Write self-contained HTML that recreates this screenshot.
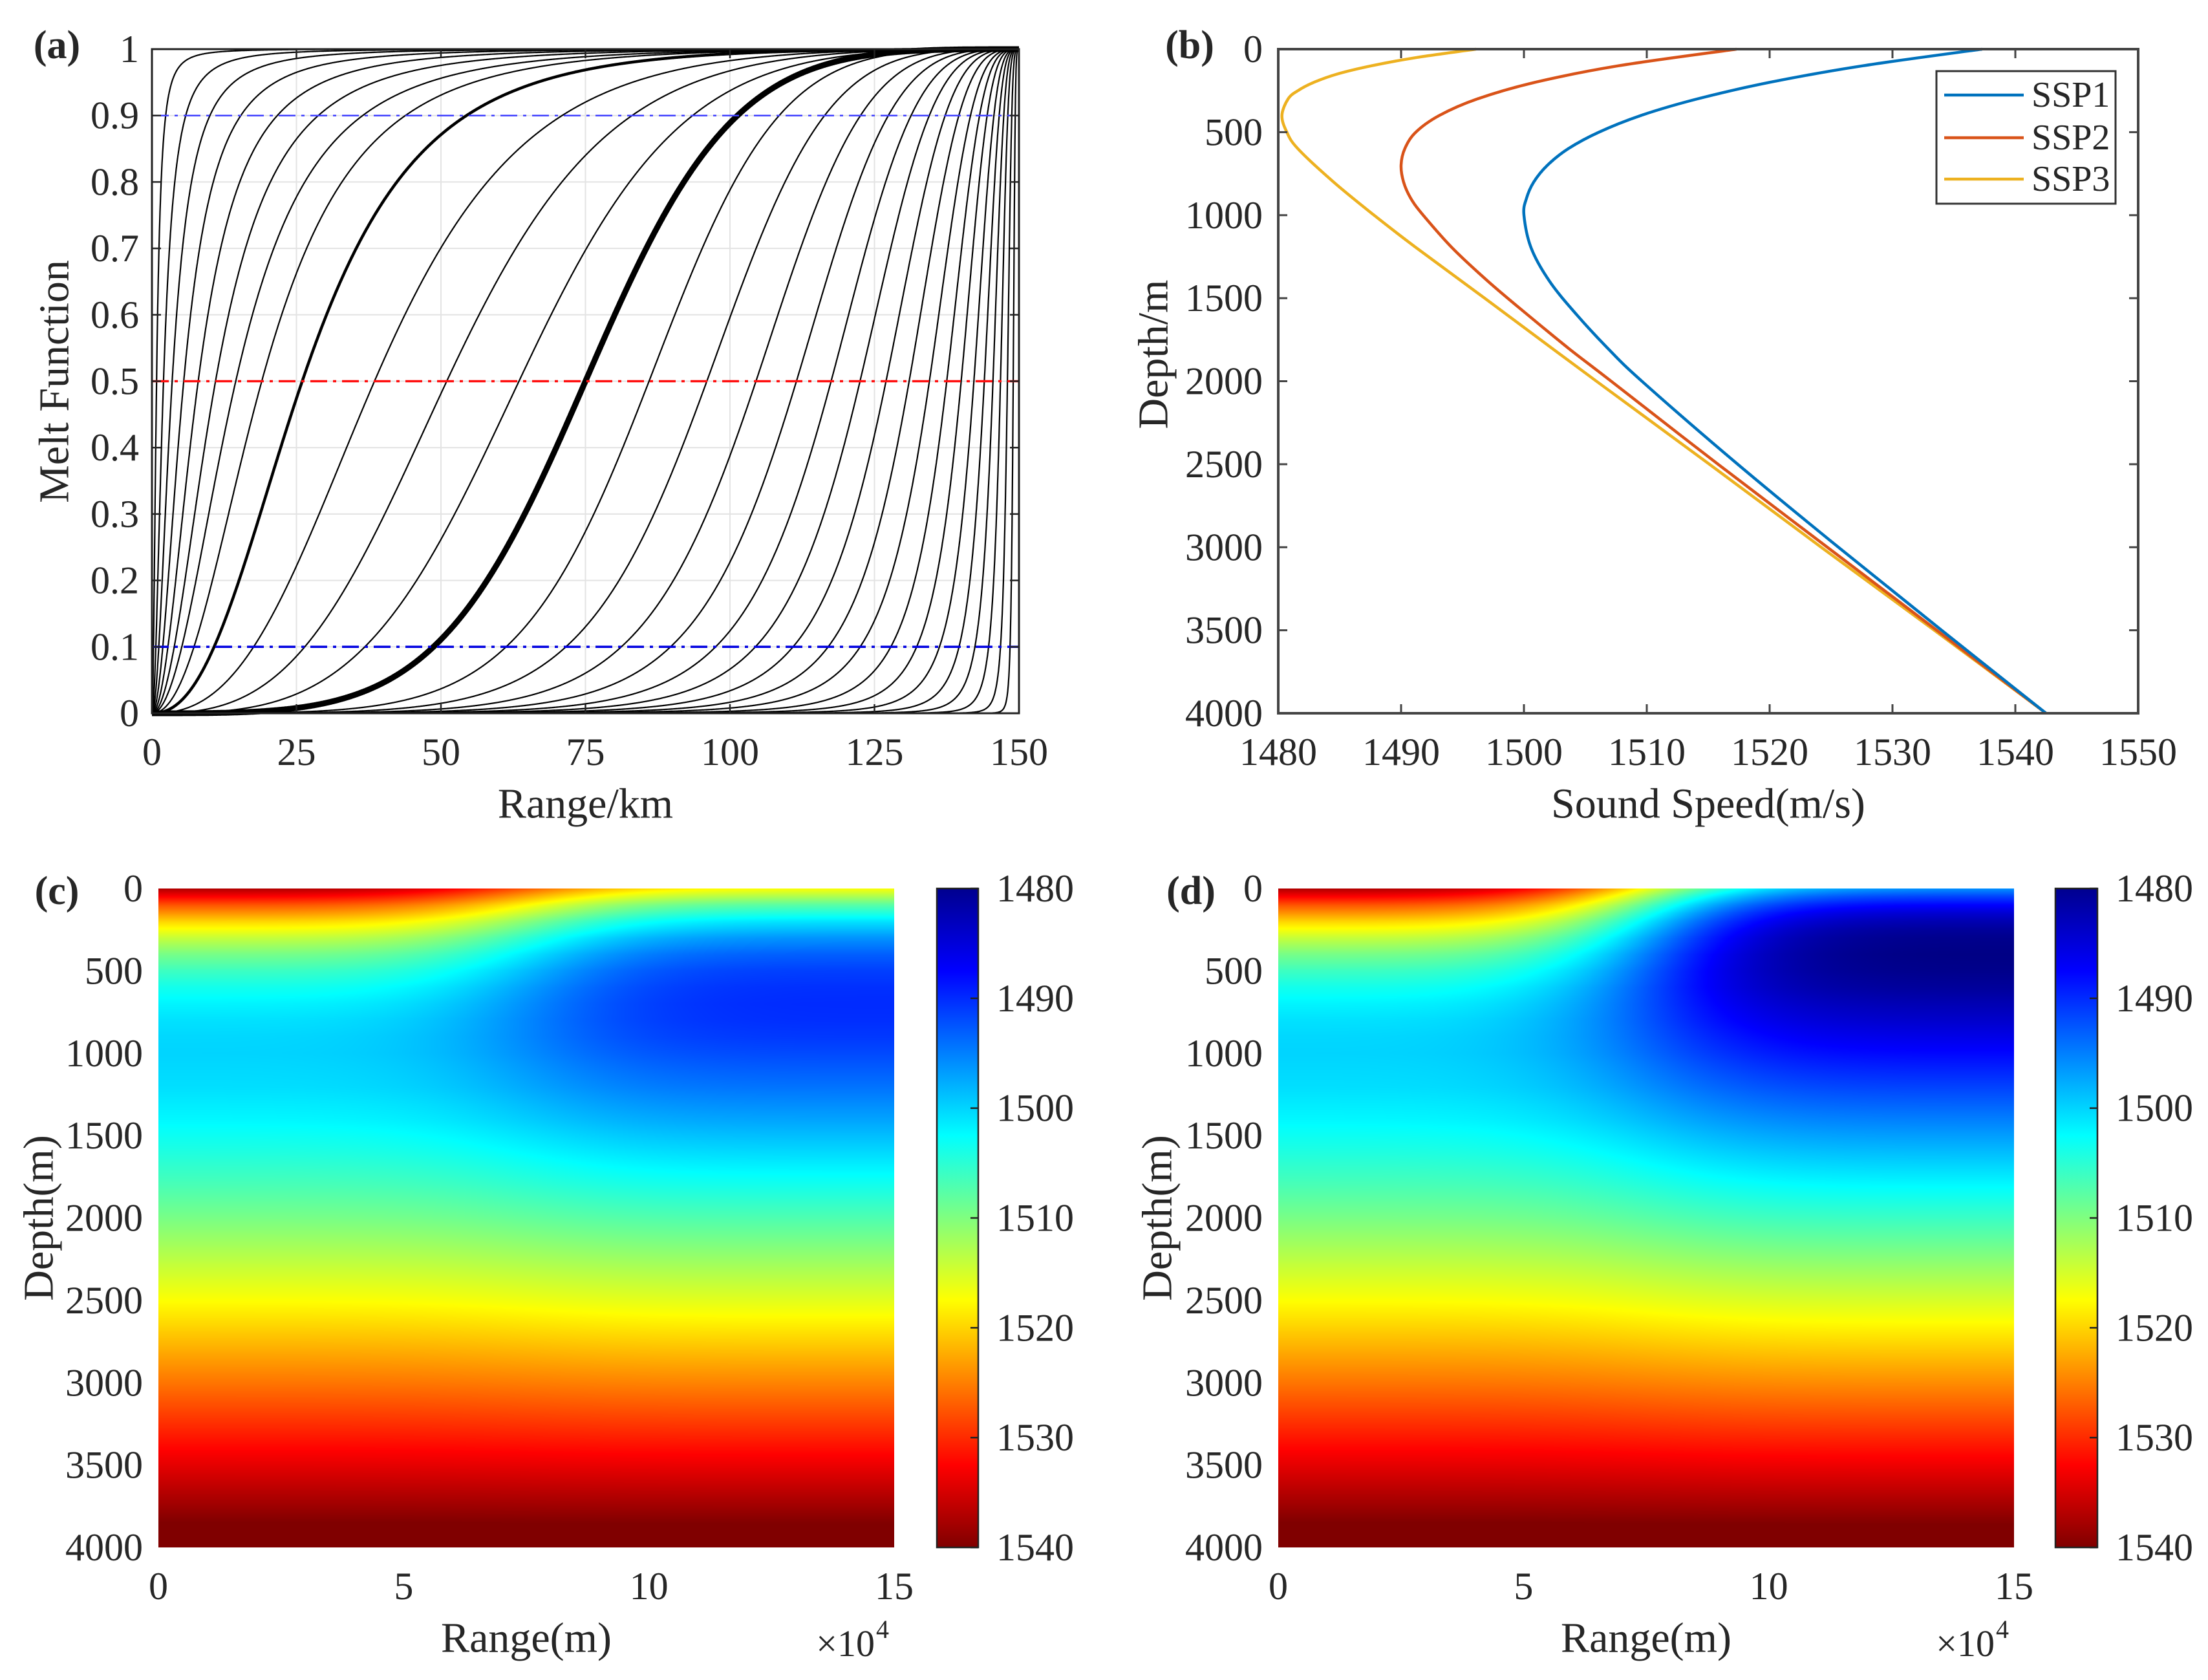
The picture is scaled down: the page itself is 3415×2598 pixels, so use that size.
<!DOCTYPE html>
<html><head><meta charset="utf-8"><title>Melt function and sound speed fields</title>
<style>
html,body{margin:0;padding:0;background:#fff;}
#wrap{position:relative;width:3415px;height:2598px;overflow:hidden;background:#fff;}
canvas{position:absolute;}
svg{position:absolute;left:0;top:0;}
text{font-family:"Liberation Serif",serif;fill:#262626;}
</style></head>
<body>
<div id="wrap">
<canvas id="hmC" width="1138" height="1019" style="left:245px;top:1374px"></canvas>
<canvas id="hmD" width="1138" height="1019" style="left:1977px;top:1374px"></canvas>
<svg id="fig" width="3415" height="2598" viewBox="0 0 3415 2598">
<defs>
<linearGradient id="jetGrad" x1="0" y1="0" x2="0" y2="1">
<stop offset="0" stop-color="#00008f"/><stop offset="0.125" stop-color="#0000ff"/>
<stop offset="0.375" stop-color="#00ffff"/><stop offset="0.625" stop-color="#ffff00"/>
<stop offset="0.875" stop-color="#ff0000"/><stop offset="1" stop-color="#800000"/>
</linearGradient>
</defs>
</svg>
</div>
<script>
// ---------- data: panel (a) melt-function family ----------
const meltCenters = [0.8, 2, 3.5, 5.5, 8, 11, 14.5, 19, 26, 38.5, 51, 63.5, 75, 86, 96, 104.5, 111.5, 117.5, 122.5, 127, 131, 134.5, 137.5, 140, 142.2, 144, 145.5, 146.8, 148, 149];
const meltSteepness = [2, 2, 2, 2, 2, 2, 2, 2.1, 2.2, 2.3, 2.5, 2.7, 3, 3.3, 3.3, 3.3, 3.3, 3.3, 3.3, 3.3, 3.3, 3.3, 3.4, 3.5, 3.6, 3.8, 4, 4.3, 4.6, 5];
const meltRefLevels = [0.9, 0.5, 0.1];
const meltXTicks = [0, 25, 50, 75, 100, 125, 150];
const meltYTicks = [0, 0.1, 0.2, 0.3, 0.4, 0.5, 0.6, 0.7, 0.8, 0.9, 1];
const meltYTickLabels = ['0','0.1','0.2','0.3','0.4','0.5','0.6','0.7','0.8','0.9','1'];
// ---------- data: panel (b) sound speed profiles ----------
const ssp1Depth = [0,100,200,300,400,500,600,700,800,900,1000,1200,1400,1600,1800,2000,2500,3000,3500,4000];
const ssp1Speed = [1537.3,1527.6,1520.0,1514.1,1509.5,1506.1,1503.6,1501.9,1500.8,1500.2,1500.0,1500.6,1502.1,1504.3,1506.8,1509.6,1517.4,1525.6,1534.0,1542.5];
const ssp2Depth = [0,100,200,300,400,500,600,700,800,900,1000,1200,1400,1600,1800,2000,2500,3000,3500,4000];
const ssp2Speed = [1517.3,1507.7,1500.9,1496.2,1493.1,1491.2,1490.3,1490.0,1490.2,1490.8,1491.8,1494.2,1497.1,1500.3,1503.6,1507.1,1515.8,1524.7,1533.6,1542.5];
const ssp3Depth = [0,50,100,150,200,250,300,400,500,600,800,1000,1200,1500,2000,2500,3000,3500,4000];
const ssp3Speed = [1496.1,1491.3,1487.6,1484.8,1482.9,1481.6,1480.8,1480.3,1480.7,1481.6,1484.5,1487.8,1491.3,1496.8,1505.9,1515.1,1524.2,1533.4,1542.5];
const sspNames = ['SSP1','SSP2','SSP3'];
const speedTicks = [1480,1490,1500,1510,1520,1530,1540,1550];
const depthTicks = [0,500,1000,1500,2000,2500,3000,3500,4000];
// ---------- data: heatmaps ----------
const heatRangeTicks = [0,5,10,15];          // x10^4 m
const colorbarTicks = [1480,1490,1500,1510,1520,1530,1540];
const fieldMeltCenter = 75;                   // km
const fieldMeltSteepness = 3;

const NS = 'http://www.w3.org/2000/svg';
const svg = document.getElementById('fig');
function mk(tag, attrs, parent){
  const e = document.createElementNS(NS, tag);
  for (const k in attrs) e.setAttribute(k, attrs[k]);
  (parent || svg).appendChild(e);
  return e;
}
function txt(str, x, y, size, anchor, parent, extra){
  const t = mk('text', Object.assign({x:x, y:y, 'font-size':size, 'text-anchor':anchor||'middle', 'dominant-baseline':'central'}, extra||{}), parent);
  t.textContent = str;
  return t;
}
function melt(x, c, k){
  if (x <= 0) return 0;
  if (x >= 150) return 1;
  const s = c / (150 - c);
  return 1 / (1 + Math.pow(s * (150 - x) / x, k));
}
function interp(ds, vs, d){
  if (d <= ds[0]) return vs[0];
  for (let i = 1; i < ds.length; i++){
    if (d <= ds[i]){ const t = (d - ds[i-1]) / (ds[i] - ds[i-1]); return vs[i-1] + t * (vs[i] - vs[i-1]); }
  }
  return vs[vs.length-1];
}
function catmull(pts){
  let d = 'M' + pts[0][0].toFixed(1) + ',' + pts[0][1].toFixed(1);
  for (let i = 0; i < pts.length - 1; i++){
    const p0 = pts[Math.max(0,i-1)], p1 = pts[i], p2 = pts[i+1], p3 = pts[Math.min(pts.length-1,i+2)];
    const c1x = p1[0] + (p2[0]-p0[0])/6, c1y = p1[1] + (p2[1]-p0[1])/6;
    const c2x = p2[0] - (p3[0]-p1[0])/6, c2y = p2[1] - (p3[1]-p1[1])/6;
    d += ' C' + c1x.toFixed(1)+','+c1y.toFixed(1)+' '+c2x.toFixed(1)+','+c2y.toFixed(1)+' '+p2[0].toFixed(1)+','+p2[1].toFixed(1);
  }
  return d;
}

// ================= PANEL A =================
const A = {L:235, R:1576, T:76, B:1103};
const xA = v => A.L + v / 150 * (A.R - A.L);
const yA = v => A.B - v * (A.B - A.T);
const gA = mk('g', {});


const gridA = mk('g', {stroke:'#e3e3e3', 'stroke-width':2}, gA);


meltXTicks.forEach(v => { mk('line', {x1:xA(v), x2:xA(v), y1:A.T, y2:A.B}, gridA); });
meltYTicks.forEach(v => { mk('line', {x1:A.L, x2:A.R, y1:yA(v), y2:yA(v)}, gridA); });
const curvesA = mk('g', {fill:'none', stroke:'#000', 'stroke-linejoin':'round'}, gA);


const order = meltCenters.map((c,i)=>i).sort((a,b)=>{
  const w = c => c===75 ? 2 : (c===26 ? 1 : 0);
  return w(meltCenters[a]) - w(meltCenters[b]);
});
order.forEach(i => {
  const c = meltCenters[i], k = meltSteepness[i];
  let d = '';
  for (let s = 0; s <= 3000; s++){
    const x = s * 0.05;
    d += (s ? 'L' : 'M') + xA(x).toFixed(1) + ',' + yA(melt(x, c, k)).toFixed(1);
  }
  const p = mk('path', {d:d, 'stroke-width': c===75 ? 9 : (c===26 ? 4.5 : 2.2)}, curvesA);
  
  
});
const refStyles = {0.9:{c:'#4040ff', w:2.5}, 0.5:{c:'#ff1010', w:3.5}, 0.1:{c:'#0000e0', w:3.5}};
meltRefLevels.forEach(v => {
  const l = mk('line', {x1:A.L, x2:A.R, y1:yA(v), y2:yA(v), stroke:refStyles[v].c, 'stroke-width':refStyles[v].w, 'stroke-dasharray':'26 9 5 9'}, gA);
  
  
});
const boxA = mk('rect', {x:A.L, y:A.T, width:A.R-A.L, height:A.B-A.T, fill:'none', stroke:'#222', 'stroke-width':3}, gA);


const tA = mk('g', {stroke:'#222', 'stroke-width':2.5}, gA);
meltXTicks.forEach(v => { mk('line',{x1:xA(v),x2:xA(v),y1:A.B,y2:A.B-14},tA); mk('line',{x1:xA(v),x2:xA(v),y1:A.T,y2:A.T+14},tA); });
meltYTicks.forEach(v => { mk('line',{x1:A.L,x2:A.L+14,y1:yA(v),y2:yA(v)},tA); mk('line',{x1:A.R,x2:A.R-14,y1:yA(v),y2:yA(v)},tA); });
meltXTicks.forEach(v => {
  const t = txt(String(v), xA(v), A.B + 60, 60, 'middle', gA);
  
  
});
meltYTicks.forEach((v,i) => {
  const t = txt(meltYTickLabels[i], A.L - 20, yA(v), 60, 'end', gA);
  
  
});
const xtA = txt('Range/km', (A.L+A.R)/2, 1243, 66, 'middle', gA);


const ytA = txt('Melt Function', 0, 0, 66, 'middle', gA, {transform:'translate(84,590) rotate(-90)'});


const labA = txt('(a)', 88, 70, 62, 'middle', gA, {'font-weight':'bold', fill:'#000'});



// ================= PANEL B =================
const Bp = {L:1977, R:3307, T:76, B:1103};
const xB = v => Bp.L + (v - 1480) / 70 * (Bp.R - Bp.L);
const yB = d => Bp.T + d / 4000 * (Bp.B - Bp.T);
const gB = mk('g', {});


const sspColors = ['#0072BD', '#D95319', '#EDB120'];
const sspData = [[ssp1Depth, ssp1Speed], [ssp2Depth, ssp2Speed], [ssp3Depth, ssp3Speed]];
[2,1,0].forEach(i => {
  const pts = sspData[i][0].map((d,j) => [xB(sspData[i][1][j]), yB(d)]);
  const p = mk('path', {d:catmull(pts), fill:'none', stroke:sspColors[i], 'stroke-width':4.5}, gB);
  
  
});
const boxB = mk('rect', {x:Bp.L, y:Bp.T, width:Bp.R-Bp.L, height:Bp.B-Bp.T, fill:'none', stroke:'#444', 'stroke-width':4}, gB);


const tB = mk('g', {stroke:'#444', 'stroke-width':3}, gB);
speedTicks.forEach(v => { mk('line',{x1:xB(v),x2:xB(v),y1:Bp.B,y2:Bp.B-14},tB); mk('line',{x1:xB(v),x2:xB(v),y1:Bp.T,y2:Bp.T+14},tB); });
depthTicks.forEach(v => { mk('line',{x1:Bp.L,x2:Bp.L+14,y1:yB(v),y2:yB(v)},tB); mk('line',{x1:Bp.R,x2:Bp.R-14,y1:yB(v),y2:yB(v)},tB); });
speedTicks.forEach(v => {
  const t = txt(String(v), xB(v), Bp.B + 60, 60, 'middle', gB);
  
  
});
depthTicks.forEach(v => {
  const t = txt(String(v), Bp.L - 24, yB(v), 60, 'end', gB);
  
  
});
const xtB = txt('Sound Speed(m/s)', (Bp.L+Bp.R)/2, 1243, 66, 'middle', gB);


const ytB = txt('Depth/m', 0, 0, 66, 'middle', gB, {transform:'translate(1784,548) rotate(-90)'});


const labB = txt('(b)', 1840, 70, 62, 'middle', gB, {'font-weight':'bold', fill:'#000'});


const leg = mk('g', {}, gB);


mk('rect', {x:2995, y:110, width:277, height:205, fill:'#fff', stroke:'#333', 'stroke-width':3}, leg);
[147, 213, 277].forEach((y, i) => {
  const ln = mk('line', {x1:3007, x2:3130, y1:y, y2:y, stroke:sspColors[i], 'stroke-width':4.5}, leg);
  
  
  const t = txt(sspNames[i], 3142, y, 56, 'start', leg, {fill:'#000'});
  
  
});

// ================= HEATMAPS =================
function jet(t){
  t = Math.max(0, Math.min(1, t));
  const cl = v => Math.max(0, Math.min(1, v));
  return [cl(1.5 - Math.abs(4*t - 3)), cl(1.5 - Math.abs(4*t - 2)), cl(1.5 - Math.abs(4*t - 1))];
}
function drawHeat(id, depthB, speedB){
  const cv = document.getElementById(id);
  const ctx = cv.getContext('2d');
  const W = cv.width, H = cv.height;
  const img = ctx.createImageData(W, H);
  const colA = [], colB = [];
  for (let y = 0; y < H; y++){
    const d = (y + 0.5) / H * 4000;
    colA.push(interp(ssp1Depth, ssp1Speed, d));
    colB.push(interp(depthB, speedB, d));
  }
  for (let x = 0; x < W; x++){
    const r = (x + 0.5) / W * 150;
    const m = melt(r, fieldMeltCenter, fieldMeltSteepness);
    for (let y = 0; y < H; y++){
      const c = colA[y] * (1 - m) + colB[y] * m;
      const rgb = jet((c - 1480) / 60);
      const o = (y * W + x) * 4;
      img.data[o] = rgb[0]*255; img.data[o+1] = rgb[1]*255; img.data[o+2] = rgb[2]*255; img.data[o+3] = 255;
    }
  }
  ctx.putImageData(img, 0, 0);
}
drawHeat('hmC', ssp2Depth, ssp2Speed);
drawHeat('hmD', ssp3Depth, ssp3Speed);

function heatAxes(P, cbL, cbR, letter, labX, ytX){
  const g = mk('g', {});
  
  
  const xH = v => P.L + v / 15 * (P.R - P.L);
  const yH = d => P.T + d / 4000 * (P.B - P.T);
  depthTicks.forEach(v => {
    const t = txt(String(v), P.L - 24, yH(v), 60, 'end', g);
    
    
  });
  heatRangeTicks.forEach(v => {
    const t = txt(String(v), xH(v), P.B + 60, 60, 'middle', g);
    
    
  });
  const xt = txt('Range(m)', (P.L+P.R)/2, P.B + 140, 66, 'middle', g);
  
  
  const mult = mk('text', {x:P.R - 30, y:P.B + 168, 'font-size':58, 'text-anchor':'end'}, g);
  mult.textContent = '×10';
  
  
  const sup = mk('text', {x:P.R - 28, y:P.B + 140, 'font-size':40, 'text-anchor':'start'}, g);
  sup.textContent = '4';
  
  
  const yt = txt('Depth(m)', 0, 0, 66, 'middle', g, {transform:'translate(' + ytX + ',' + ((P.T+P.B)/2) + ') rotate(-90)'});
  
  
  const lab = txt('(' + letter + ')', labX, P.T + 4, 62, 'middle', g, {'font-weight':'bold', fill:'#000'});
  
  
  const cb = mk('rect', {x:cbL, y:P.T, width:cbR-cbL, height:P.B-P.T, fill:'url(#jetGrad)', stroke:'#222', 'stroke-width':2.5}, g);
  
  
  const yC = v => P.T + (v - 1480) / 60 * (P.B - P.T);
  colorbarTicks.forEach(v => {
    mk('line', {x1:cbR, x2:cbR - 12, y1:yC(v), y2:yC(v), stroke:'#222', 'stroke-width':2.5}, g);
    const t = txt(String(v), cbR + 28, yC(v), 60, 'start', g);
    
    
  });
}
heatAxes({L:245, R:1383, T:1374, B:2393}, 1449, 1513, 'c', 88, 60);
heatAxes({L:1977, R:3115, T:1374, B:2393}, 3179, 3244, 'd', 1842, 1790);
</script>
</body></html>
